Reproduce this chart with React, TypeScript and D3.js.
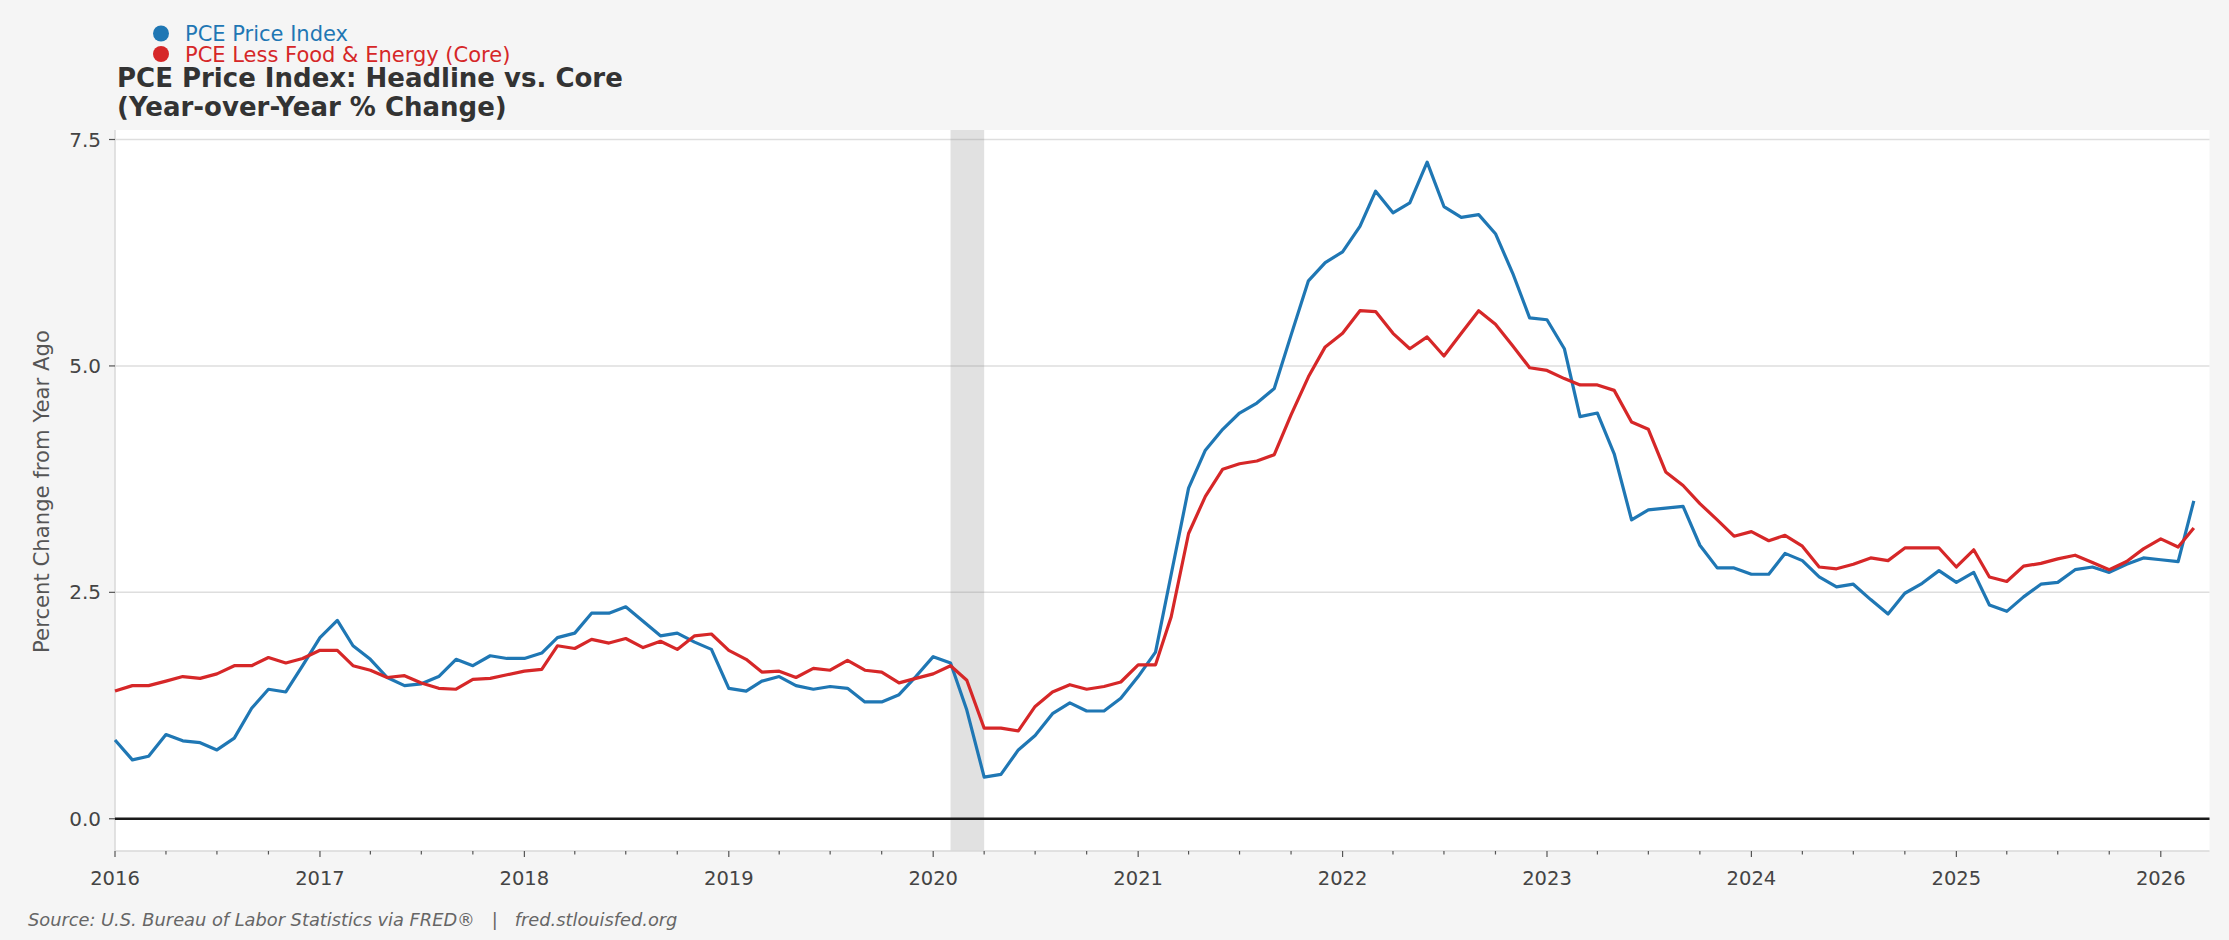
import * as d3 from 'd3'

// monthly YoY % change, Jan 2016 .. Mar 2026
const headline = [
  0.87, 0.65, 0.69, 0.93, 0.86, 0.84, 0.76, 0.89, 1.22, 1.43, 1.40, 1.69,
  2.00, 2.19, 1.91, 1.76, 1.56, 1.47, 1.49, 1.57, 1.76, 1.69, 1.80, 1.77,
  1.77, 1.83, 2.00, 2.05, 2.27, 2.27, 2.34, 2.18, 2.02, 2.05, 1.95, 1.87,
  1.44, 1.41, 1.52, 1.57, 1.47, 1.43, 1.46, 1.44, 1.29, 1.29, 1.37, 1.57,
  1.79, 1.72, 1.20, 0.46, 0.49, 0.76, 0.92, 1.16, 1.28, 1.19, 1.19, 1.33,
  1.57, 1.84, 2.70, 3.65, 4.07, 4.30, 4.48, 4.59, 4.75, 5.34, 5.94, 6.14,
  6.26, 6.54, 6.93, 6.69, 6.80, 7.25, 6.76, 6.64, 6.67, 6.46, 6.02, 5.53,
  5.51, 5.19, 4.44, 4.48, 4.03, 3.30, 3.41, 3.43, 3.45, 3.02, 2.77, 2.77,
  2.70, 2.70, 2.93, 2.85, 2.67, 2.56, 2.59, 2.42, 2.26, 2.49, 2.60, 2.74,
  2.61, 2.72, 2.36, 2.29, 2.45, 2.59, 2.61, 2.75, 2.78, 2.72, 2.81, 2.88,
  2.86, 2.84, 3.51,
]

const core = [
  1.41, 1.47, 1.47, 1.52, 1.57, 1.55, 1.60, 1.69, 1.69, 1.78, 1.72, 1.77,
  1.86, 1.86, 1.69, 1.64, 1.56, 1.58, 1.50, 1.44, 1.43, 1.54, 1.55, 1.59,
  1.63, 1.65, 1.91, 1.88, 1.98, 1.94, 1.99, 1.89, 1.96, 1.87, 2.02, 2.04,
  1.86, 1.76, 1.62, 1.63, 1.56, 1.66, 1.64, 1.75, 1.64, 1.62, 1.50, 1.55,
  1.60, 1.69, 1.53, 1.00, 1.00, 0.97, 1.24, 1.40, 1.48, 1.43, 1.46, 1.51,
  1.70, 1.70, 2.23, 3.15, 3.56, 3.86, 3.92, 3.95, 4.02, 4.46, 4.88, 5.21,
  5.36, 5.61, 5.60, 5.36, 5.19, 5.32, 5.11, 5.36, 5.61, 5.46, 5.22, 4.98,
  4.95, 4.86, 4.79, 4.79, 4.73, 4.38, 4.30, 3.83, 3.68, 3.48, 3.30, 3.12,
  3.17, 3.07, 3.13, 3.01, 2.78, 2.76, 2.81, 2.88, 2.85, 2.99, 2.99, 2.99,
  2.78, 2.97, 2.67, 2.62, 2.79, 2.82, 2.87, 2.91, 2.83, 2.75, 2.84, 2.98,
  3.09, 3.00, 3.21,
]

const months = d3.timeMonth.range(new Date(2016, 0, 1), new Date(2026, 3, 1))
const yTicks = [0, 2.5, 5, 7.5]
const years = d3.range(2016, 2027)
const recession = [new Date(2020, 1, 1), new Date(2020, 3, 1)]

const series = [
  { name: 'PCE Price Index', color: '#1f77b4', values: headline },
  { name: 'PCE Less Food & Energy (Core)', color: '#d62728', values: core },
]

const W = 2229
const H = 940
const FONT = 'DejaVu Sans, Verdana, sans-serif'

export default function App() {
  const left = 115
  const right = 2209.5
  const top = 130
  const bottom = 851

  const x = d3
    .scaleTime()
    .domain([new Date(2016, 0, 1), new Date(2026, 2, 29)])
    .range([left, right])
  const y = d3.scaleLinear().domain([-0.356, 7.605]).range([bottom, top])

  const line = d3
    .line<number>()
    .x((_, i) => x(months[i]))
    .y(d => y(d))

  const quarters = d3
    .timeMonth
    .every(3)!
    .range(new Date(2016, 0, 1), new Date(2026, 2, 29))

  return (
    <svg
      width={W}
      height={H}
      style={{ position: 'absolute', left: 0, top: 0, display: 'block' }}
      fontFamily={FONT}
    >
      <rect width={W} height={H} fill="#f5f5f5" />
      <rect x={left} y={top} width={right - left} height={bottom - top} fill="#ffffff" />

      {/* gridlines */}
      {yTicks.map(t => (
        <line key={t} x1={left} x2={right} y1={y(t)} y2={y(t)} stroke="#dedede" strokeWidth={1.5} />
      ))}

      {/* recession band */}
      <rect
        x={x(recession[0])}
        y={top}
        width={x(recession[1]) - x(recession[0])}
        height={bottom - top}
        fill="#808080"
        opacity={0.24}
      />

      {/* spines */}
      <line x1={left} x2={left} y1={top} y2={bottom} stroke="#d8d8d8" strokeWidth={1.5} />
      <line x1={left} x2={right} y1={bottom} y2={bottom} stroke="#d8d8d8" strokeWidth={1.5} />

      {/* zero line */}
      <line x1={left} x2={right} y1={y(0)} y2={y(0)} stroke="#1a1a1a" strokeWidth={2.5} />

      {series.map(s => (
        <path
          key={s.name}
          d={line(s.values) ?? ''}
          fill="none"
          stroke={s.color}
          strokeWidth={3.2}
          strokeLinejoin="round"
        />
      ))}

      {/* y axis */}
      {yTicks.map(t => (
        <g key={t}>
          <line x1={left - 6} x2={left} y1={y(t)} y2={y(t)} stroke="#555" strokeWidth={1.2} />
          <text
            x={left - 14}
            y={y(t)}
            dy="0.35em"
            textAnchor="end"
            fontSize={20}
            fill="#444"
          >
            {t.toFixed(1)}
          </text>
        </g>
      ))}
      <text
        transform={`translate(49,${(top + bottom) / 2 + 1}) rotate(-90)`}
        textAnchor="middle"
        fontSize={21.2}
        fill="#555"
      >
        Percent Change from Year Ago
      </text>

      {/* x axis */}
      {quarters.map(d => (
        <line
          key={+d}
          x1={x(d)}
          x2={x(d)}
          y1={bottom}
          y2={bottom + (d.getMonth() === 0 ? 6 : 3.5)}
          stroke="#555"
          strokeWidth={1.2}
        />
      ))}
      {years.map(yr => (
        <text
          key={yr}
          x={x(new Date(yr, 0, 1))}
          y={bottom + 34}
          textAnchor="middle"
          fontSize={19.5}
          fill="#444"
        >
          {yr}
        </text>
      ))}

      {/* title */}
      <text x={117} y={87} fontSize={26} fontWeight="bold" fill="#333">
        PCE Price Index: Headline vs. Core
      </text>
      <text x={117} y={116} fontSize={26} fontWeight="bold" fill="#333">
        (Year-over-Year % Change)
      </text>

      {/* legend */}
      {series.map((s, i) => (
        <g key={s.name} transform={`translate(161,${33.5 + i * 20.5})`}>
          <circle r={8} fill={s.color} />
          <text x={24} dy="0.36em" fontSize={21} fill={s.color}>
            {s.name}
          </text>
        </g>
      ))}

      <text x={28} y={926} fontSize={17.8} fontStyle="italic" fill="#666" xmlSpace="preserve">
        {'Source: U.S. Bureau of Labor Statistics via FRED®   |   fred.stlouisfed.org'}
      </text>
    </svg>
  )
}
